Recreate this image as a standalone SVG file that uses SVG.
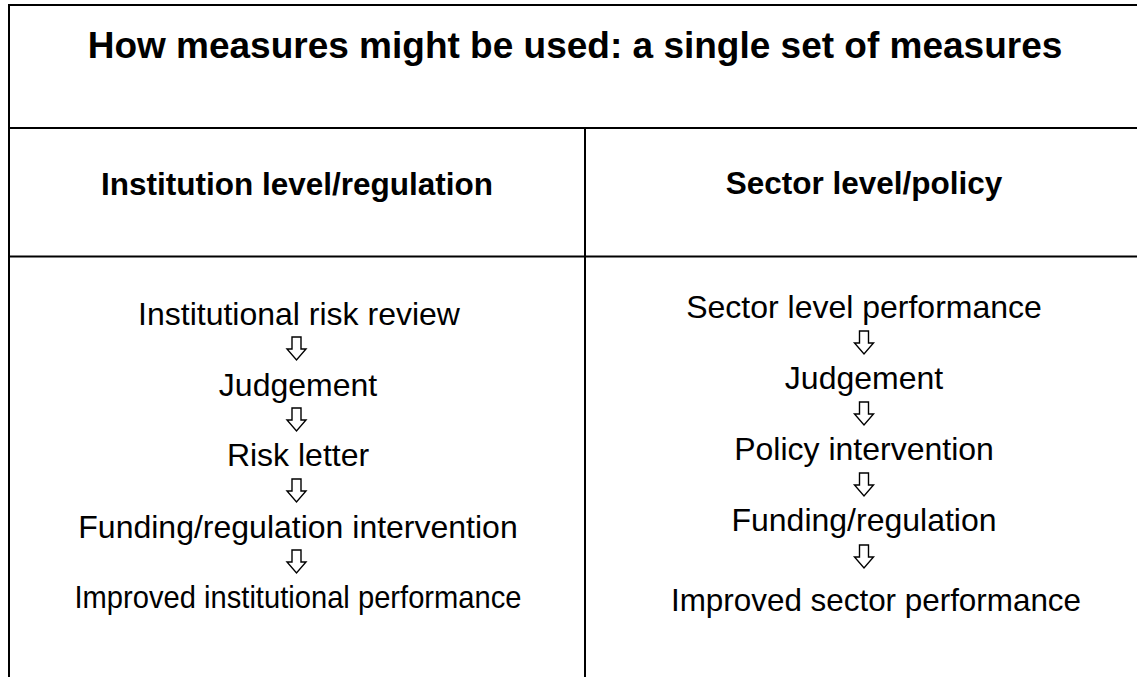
<svg xmlns="http://www.w3.org/2000/svg" width="1137" height="677" viewBox="0 0 1137 677">
  <defs>
    <style>
      .rule { stroke: #000; stroke-width: 2; fill: none; }
      .title { font-family: "Liberation Sans", Arial, sans-serif; font-weight: bold; font-size: 37px; fill: #000; text-anchor: middle; }
      .head { font-family: "Liberation Sans", Arial, sans-serif; font-weight: bold; font-size: 31.5px; fill: #000; text-anchor: middle; }
      .step { font-family: "Liberation Sans", Arial, sans-serif; font-size: 32px; fill: #000; text-anchor: middle; }
      .arrow { fill: #fff; stroke: #000; stroke-width: 1.4; stroke-linejoin: miter; }
    </style>
    <!-- hollow down arrow, origin at top centre of the shaft -->
    <path id="down" class="arrow" d="M -4.5 0 H 4.5 V 12 H 9.5 L 0 23 L -9.5 12 H -4.5 Z"/>
  </defs>

  <!-- table frame -->
  <g id="frame">
    <line class="rule" x1="9" y1="5" x2="1137" y2="5"/>
    <line class="rule" x1="9" y1="4" x2="9" y2="677"/>
    <line class="rule" x1="9" y1="128" x2="1137" y2="128"/>
    <line class="rule" x1="9" y1="256.5" x2="1137" y2="256.5"/>
    <line class="rule" x1="585" y1="128" x2="585" y2="677"/>
  </g>

  <g id="title">
    <text class="title" x="575" y="58">How measures might be used: a single set of measures</text>
  </g>

  <g id="head-institution">
    <text class="head" x="297" y="195">Institution level/regulation</text>
  </g>
  <g id="head-sector">
    <text class="head" x="864" y="194">Sector level/policy</text>
  </g>

  <!-- institution level chain -->
  <g id="inst-review"><text class="step" x="299" y="325">Institutional risk review</text></g>
  <g id="inst-judgement"><text class="step" x="298" y="396">Judgement</text></g>
  <g id="inst-letter"><text class="step" x="298" y="466">Risk letter</text></g>
  <g id="inst-intervention"><text class="step" x="298" y="538">Funding/regulation intervention</text></g>
  <g id="inst-performance"><text class="step" x="298" y="608" textLength="447" lengthAdjust="spacingAndGlyphs">Improved institutional performance</text></g>

  <!-- sector level chain -->
  <g id="sec-performance"><text class="step" x="864" y="318">Sector level performance</text></g>
  <g id="sec-judgement"><text class="step" x="864" y="389">Judgement</text></g>
  <g id="sec-policy"><text class="step" x="864" y="460">Policy intervention</text></g>
  <g id="sec-funding"><text class="step" x="864" y="531">Funding/regulation</text></g>
  <g id="sec-improved"><text class="step" x="876" y="611" textLength="410" lengthAdjust="spacingAndGlyphs">Improved sector performance</text></g>

  <!-- step arrows -->
  <g id="connectors">
    <use href="#down" x="296.5" y="337"/>
    <use href="#down" x="296.5" y="408"/>
    <use href="#down" x="296.5" y="479"/>
    <use href="#down" x="296.5" y="550"/>
    <use href="#down" x="864" y="331"/>
    <use href="#down" x="864" y="402"/>
    <use href="#down" x="864" y="473"/>
    <use href="#down" x="864" y="545"/>
  </g>
</svg>
